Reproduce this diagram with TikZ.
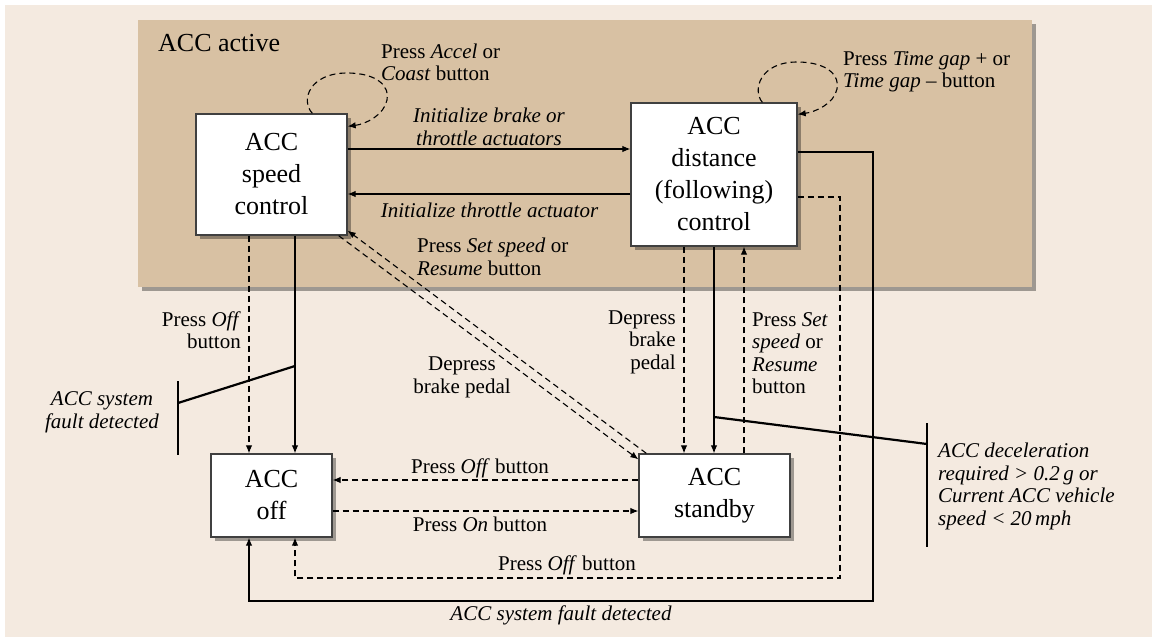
\documentclass[tikz,border=0pt]{standalone}
\usepackage{fontspec}
\setmainfont{Liberation Serif}
\usetikzlibrary{arrows.meta,shadows,calc}
\definecolor{bgbeige}{HTML}{F4EAE0}
\definecolor{activetan}{HTML}{D8C1A3}
\definecolor{boxline}{HTML}{404040}
\newcommand{\boxfont}{\fontsize{26}{32}\selectfont}
\newcommand{\labfont}{\fontsize{21}{22.5}\selectfont}
\tikzset{
  stbox/.style={draw=boxline, line width=1.3pt, fill=white, align=center,
    font=\boxfont, inner sep=0pt,
    drop shadow={shadow xshift=3.5pt, shadow yshift=-3.5pt, fill=black, opacity=0.35}},
  lab/.style={font=\labfont, inner sep=0pt},
  conn/.style={line width=1.1pt, -{Latex[length=8pt,width=6.5pt]}},
  dconn/.style={conn, dash pattern=on 6pt off 4pt},
  faultbar/.style={line width=2.2pt},
}
\begin{document}
\begin{tikzpicture}[x=1pt,y=-1pt]
\useasboundingbox (0,0) rectangle (1152,637);
\fill[white] (0,0) rectangle (1152,637);
\fill[bgbeige] (5,5) rectangle (1152,637);
% ACC active region
\fill[black, opacity=0.35] (142,24) rectangle (1036,291);
\fill[activetan] (138,20) rectangle (1032,287);
\node[anchor=west, font=\boxfont, inner sep=0pt] (activelabel) at (158,43) {ACC active};

% states
\node[stbox, minimum width=151pt, minimum height=121pt] (sc) at (271.5,174.5) {ACC\\speed\\control};
\node[stbox, minimum width=166pt, minimum height=143pt] (dc) at (714,174.5) {ACC\\distance\\(following)\\control};
\node[stbox, minimum width=121pt, minimum height=83pt] (off) at (271.5,495.5) {ACC\\off};
\node[stbox, minimum width=151pt, minimum height=83pt] (sb) at (714.5,495.5) {ACC\\standby};

% self loops
\draw[dconn] ([xshift=117pt]sc.north west) .. controls (300,100) and (310,73) .. (347,73)
   .. controls (378,73) and (390,87) .. (387,100)
   .. controls (384,115) and (366,124) .. ([yshift=-13pt]sc.north east);
\draw[dconn] ([xshift=132pt]dc.north west) .. controls (752,90) and (760,62) .. (797,62)
   .. controls (828,62) and (840,76) .. (837,89)
   .. controls (834,104) and (815,112) .. ([yshift=-12pt]dc.north east);
\node[lab, anchor=west, align=left] (accel) at (381,62.5) {Press \textit{Accel} or\\\textit{Coast} button};
\node[lab, anchor=west, align=left] (tgap) at (843,72) {Press \textit{Time gap} + or\\\textit{Time gap} -- button};

% speed <-> distance
\draw[conn] ([yshift=25.5pt]sc.east) -- ([yshift=25.5pt]dc.west);
\draw[conn] ([yshift=-19.5pt]dc.west) -- ([yshift=-19.5pt]sc.east);
\node[lab, align=center, font=\labfont\itshape] (initbt) at (489,127) {Initialize brake or\\throttle actuators};
\node[lab, font=\labfont\itshape] (initt) at (489.5,210) {Initialize throttle actuator};

% speed -> off
\draw[dconn] ([xshift=-22.5pt]sc.south) -- ([xshift=-22.5pt]off.north);
\draw[conn] ([xshift=23.5pt]sc.south) -- ([xshift=23.5pt]off.north);
\node[lab, anchor=east, align=right] (pressoff1) at (241,330) {Press \textit{Off}\\button};
\coordinate (fa) at (295,366);
\coordinate (fb) at (178,403);
\coordinate (fbt) at (178,381);
\coordinate (fbb) at (178,455);
\draw[faultbar] (fa) -- (fb);
\draw[faultbar] (fbt) -- (fbb);
\node[lab, align=center, font=\labfont\itshape] (sysfault1) at (102,412.5) {ACC system\\fault detected};

% speed <-> standby diagonals
\draw[dconn] ([xshift=-9pt]sc.south east) -- ([yshift=-6pt]sb.north west);
\draw[dconn] ([xshift=8pt]sb.north west) -- ([yshift=5pt]sc.south east);
\node[lab, anchor=west, align=left] (setspeed1) at (417,257) {Press \textit{Set speed} or\\\textit{Resume} button};
\node[lab, align=center] (depress1) at (462,377.5) {Depress\\brake pedal};

% off <-> standby
\draw[dconn] ([yshift=15.5pt]sb.west) -- ([yshift=15.5pt]off.east);
\draw[dconn] ([yshift=-15.5pt]off.east) -- ([yshift=-15.5pt]sb.west);
\node[lab] (pressoff2) at (480,468) {Press \textit{Off} button};
\node[lab] (presson) at (480,524) {Press \textit{On} button};

% distance <-> standby
\draw[dconn] ([xshift=-30pt]dc.south) -- ([xshift=-30pt]dc.south |- sb.north);
\draw[conn] (dc.south) -- (dc.south |- sb.north);
\draw[dconn] ([xshift=30pt]dc.south |- sb.north) -- ([xshift=30pt]dc.south);
\node[lab, anchor=east, align=right] (depress2) at (676,342) {Depress\\brake\\pedal};
\node[lab, anchor=west, align=left] (setspeed2) at (752,353) {Press \textit{Set}\\\textit{speed} or\\\textit{Resume}\\button};
\coordinate (da) at (714,417);
\coordinate (db) at (927,444);
\coordinate (dbt) at (927,423);
\coordinate (dbb) at (927,547);
\draw[faultbar] (da) -- (db);
\draw[faultbar] (dbt) -- (dbb);
\node[lab, anchor=west, align=left, font=\labfont\itshape] (decel) at (938,486.5)
  {ACC deceleration\\required > 0.2\,g or\\Current ACC vehicle\\speed < 20\,mph};

% distance -> off (outer loops)
\coordinate (ro1) at (840,578);
\coordinate (ro2) at (873,601);
\draw[dconn] ([yshift=-22.5pt]dc.east) -| (ro1) -| ([xshift=23.5pt]off.south);
\draw[conn] ([yshift=22.5pt]dc.east) -| (ro2) -| ([xshift=-22.5pt]off.south);
\node[lab] (pressoff3) at (567,565) {Press \textit{Off} button};
\node[lab, font=\labfont\itshape] (sysfault2) at (561,615) {ACC system fault detected};
\end{tikzpicture}
\end{document}
